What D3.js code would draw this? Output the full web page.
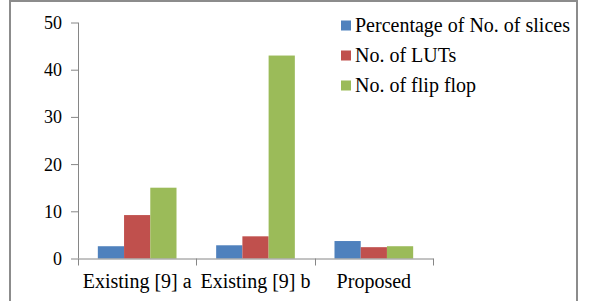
<!DOCTYPE html>
<html>
<head>
<meta charset="utf-8">
<script src="https://cdn.jsdelivr.net/npm/d3@7"></script>
<style>
  body { margin: 0; background: #fff; }
  svg text { font-family: "Liberation Serif", "Times New Roman", Times, "DejaVu Serif", serif; fill: #000; }
</style>
</head>
<body>
<div id="viz"></div>
<script>
const width = 592;
const height = 301;

const categories = ["Existing [9] a", "Existing [9] b", "Proposed"];
const seriesNames = ["Percentage of No. of slices", "No. of LUTs", "No. of flip flop"];
const slices = [2.6, 2.8, 3.7];
const luts = [9.2, 4.7, 2.4];
const flipFlops = [15, 43, 2.6];
const yTicks = [0, 10, 20, 30, 40, 50];
const colors = ["#4F81BD", "#C0504D", "#9BBB59"];

const seriesValues = [slices, luts, flipFlops];
const data = categories.map((c, i) => ({
    cat: c,
    vals: seriesNames.map((s, j) => ({key: s, value: seriesValues[j][i]}))
}));

const svg = d3.select("#viz")
    .append("svg")
    .attr("width", width)
    .attr("height", height);

// outer frame
svg.append("rect")
    .attr("x", 10)
    .attr("y", 1)
    .attr("width", 567)
    .attr("height", 320)
    .attr("fill", "none")
    .attr("stroke", "#8c8c8c")
    .attr("stroke-width", 2);

const margin = {top: 22.5, left: 78, right: 159};
const plotBottom = 258.5;

const xScale = d3.scaleBand()
    .domain(categories)
    .range([margin.left, width - margin.right]);

const xInner = d3.scaleBand()
    .domain(seriesNames)
    .range([0, xScale.bandwidth()])
    .paddingOuter(0.756);

const yScale = d3.scaleLinear()
    .domain([0, 50])
    .range([plotBottom, margin.top]);

// bars
const groups = svg.selectAll(".grp").data(data)
    .enter().append("g")
    .attr("class", "grp")
    .attr("transform", d => `translate(${xScale(d.cat)},0)`);

groups.selectAll("rect").data(d => d.vals)
    .enter().append("rect")
    .attr("x", d => xInner(d.key))
    .attr("width", xInner.bandwidth())
    .attr("y", d => yScale(d.value))
    .attr("height", d => plotBottom - yScale(d.value))
    .attr("fill", (d, i) => colors[i]);

// y axis
const yAxis = d3.axisLeft(yScale)
    .tickValues(yTicks)
    .tickSize(7)
    .tickPadding(9);

const yAxisG = svg.append("g")
    .attr("transform", `translate(${margin.left},0)`)
    .call(yAxis)
    .attr("font-family", null);
yAxisG.selectAll("line, path").attr("stroke", "#868686");
yAxisG.select(".domain").attr("d", `M0.5,${margin.top}V${plotBottom}`);
yAxisG.selectAll("text")
    .style("font-size", "18px")
    .attr("dy", "0.33em");

// x axis
const xAxis = d3.axisBottom(xScale)
    .tickSize(0)
    .tickPadding(20)
    .tickSizeOuter(0);

const xAxisG = svg.append("g")
    .attr("transform", `translate(0,${plotBottom})`)
    .call(xAxis)
    .attr("font-family", null);
xAxisG.select(".domain").attr("stroke", "#868686");
xAxisG.selectAll("text")
    .style("font-size", "20px")
    .attr("dy", "0.71em")
    .attr("y", 15);

// category boundary ticks
const bounds = categories.map(c => xScale(c)).concat([xScale.range()[1]]);
xAxisG.selectAll(".bnd").data(bounds)
    .enter().append("line")
    .attr("class", "bnd")
    .attr("x1", d => Math.round(d) + 0.5)
    .attr("x2", d => Math.round(d) + 0.5)
    .attr("y1", 0)
    .attr("y2", 7)
    .attr("stroke", "#868686");

// legend
const legend = svg.append("g")
    .attr("transform", "translate(341,20.5)");

const item = legend.selectAll("g").data(seriesNames)
    .enter().append("g")
    .attr("transform", (d, i) => `translate(0,${i * 30})`);

item.append("rect")
    .attr("width", 10)
    .attr("height", 10)
    .attr("fill", (d, i) => colors[i]);

item.append("text")
    .attr("x", 14)
    .attr("y", 11)
    .style("font-size", "20px")
    .text(d => d);
</script>
</body>
</html>
